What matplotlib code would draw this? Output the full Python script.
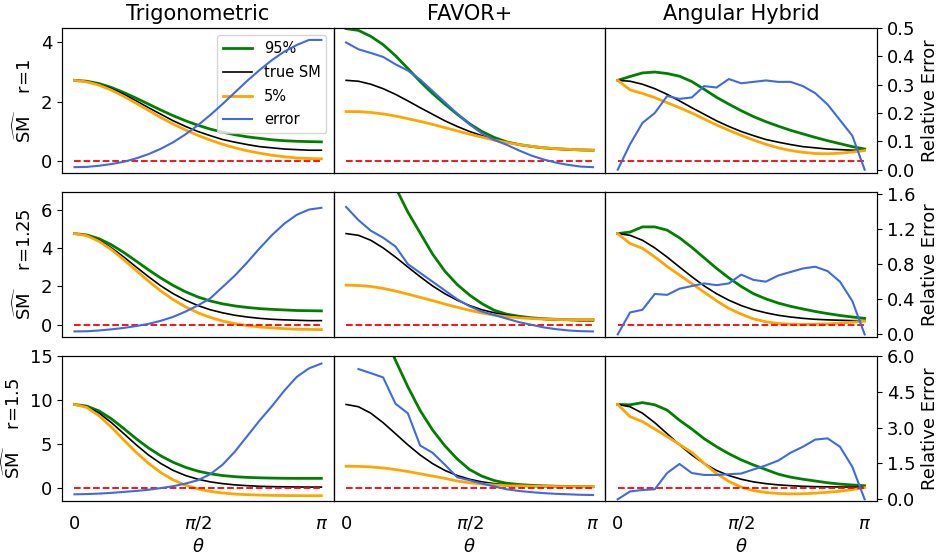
import matplotlib.pyplot as plt
from matplotlib.ticker import FormatStrFormatter
import numpy as np

# ------------------------- # Datos # ------------------------- #
# Ángulo entre vectores, de 0 a pi en pasos de 9 grados
theta = np.linspace(0, np.pi, 21)

metodos = ["Trigonometric", "FAVOR+", "Angular Hybrid"]
radios = ["1", "1.25", "1.5"]

# SM verdadero por fila (r=1, r=1.25, r=1.5)
true_r1 = [2.72, 2.69, 2.59, 2.44, 2.25, 2.03, 1.80, 1.58, 1.36, 1.17, 1.00,
           0.86, 0.73, 0.64, 0.56, 0.49, 0.45, 0.41, 0.39, 0.37, 0.37]
true_r2 = [4.77, 4.68, 4.42, 4.02, 3.54, 3.02, 2.51, 2.03, 1.62, 1.28, 1.00,
           0.78, 0.62, 0.49, 0.40, 0.33, 0.28, 0.25, 0.23, 0.21, 0.21]
true_r3 = [9.49, 9.23, 8.50, 7.42, 6.17, 4.91, 3.75, 2.78, 2.00, 1.42, 1.00,
           0.70, 0.50, 0.36, 0.27, 0.20, 0.16, 0.14, 0.12, 0.11, 0.11]

# Trigonometric: percentil 95, percentil 5 y error relativo
trig_r1_hi = [2.72, 2.69, 2.61, 2.48, 2.31, 2.12, 1.92, 1.72, 1.53, 1.36, 1.21,
              1.08, 0.98, 0.89, 0.82, 0.77, 0.72, 0.69, 0.67, 0.66, 0.65]
trig_r1_lo = [2.72, 2.67, 2.56, 2.39, 2.18, 1.95, 1.71, 1.47, 1.25, 1.05, 0.87,
              0.71, 0.57, 0.45, 0.35, 0.27, 0.20, 0.15, 0.11, 0.09, 0.08]
trig_r1_err = [0.009, 0.010, 0.014, 0.020, 0.028, 0.040, 0.055, 0.074, 0.097,
               0.125, 0.157, 0.193, 0.232, 0.273, 0.314, 0.352, 0.387, 0.417,
               0.440, 0.458, 0.458]
trig_r2_hi = [4.77, 4.70, 4.50, 4.18, 3.78, 3.33, 2.87, 2.44, 2.05, 1.72, 1.45,
              1.24, 1.09, 0.98, 0.90, 0.84, 0.80, 0.77, 0.74, 0.73, 0.72]
trig_r2_lo = [4.77, 4.66, 4.36, 3.93, 3.40, 2.84, 2.28, 1.76, 1.31, 0.93, 0.62,
              0.38, 0.19, 0.05, -0.05, -0.12, -0.17, -0.21, -0.24, -0.25, -0.26]
trig_r2_err = [0.034, 0.036, 0.045, 0.058, 0.074, 0.095, 0.12, 0.155, 0.20, 0.26,
               0.33, 0.41, 0.54, 0.67, 0.82, 0.98, 1.13, 1.26, 1.36, 1.42, 1.44]
trig_r3_hi = [9.49, 9.30, 8.75, 7.85, 6.75, 5.60, 4.55, 3.65, 2.92, 2.35, 1.92,
              1.62, 1.42, 1.29, 1.21, 1.16, 1.13, 1.11, 1.10, 1.10, 1.10]
trig_r3_lo = [9.49, 9.15, 8.20, 6.90, 5.45, 4.05, 2.80, 1.75, 0.92, 0.32, -0.10,
              -0.38, -0.56, -0.68, -0.75, -0.80, -0.83, -0.85, -0.86, -0.87, -0.87]
trig_r3_err = [0.21, 0.22, 0.24, 0.27, 0.31, 0.35, 0.40, 0.47, 0.55, 0.66, 0.80,
               1.05, 1.45, 2.00, 2.65, 3.30, 3.90, 4.55, 5.12, 5.48, 5.68]

# FAVOR+
favor_r1_hi = [4.46, 4.40, 4.20, 3.92, 3.55, 3.12, 2.68, 2.28, 1.92, 1.58, 1.26,
               1.00, 0.80, 0.65, 0.56, 0.50, 0.45, 0.42, 0.40, 0.38, 0.37]
favor_r1_lo = [1.67, 1.67, 1.64, 1.59, 1.52, 1.43, 1.34, 1.24, 1.13, 1.02, 0.91,
               0.81, 0.71, 0.63, 0.56, 0.50, 0.45, 0.42, 0.40, 0.38, 0.37]
favor_r1_err = [0.449, 0.425, 0.412, 0.398, 0.372, 0.350, 0.318, 0.278, 0.238,
                0.198, 0.160, 0.128, 0.105, 0.088, 0.068, 0.050, 0.036, 0.025,
                0.017, 0.011, 0.009]
favor_r2_hi = [14.0, 12.5, 10.5, 8.8, 7.2, 5.9, 4.8, 3.7, 2.8, 2.1, 1.55,
               1.1, 0.75, 0.55, 0.44, 0.36, 0.31, 0.28, 0.26, 0.25, 0.25]
favor_r2_lo = [2.07, 2.05, 2.00, 1.90, 1.76, 1.60, 1.43, 1.26, 1.08, 0.91, 0.75,
               0.61, 0.50, 0.42, 0.36, 0.32, 0.29, 0.27, 0.26, 0.26, 0.26]
favor_r2_err = [1.45, 1.30, 1.18, 1.10, 1.00, 0.80, 0.70, 0.60, 0.50, 0.40, 0.32,
                0.26, 0.22, 0.18, 0.14, 0.11, 0.08, 0.06, 0.045, 0.037, 0.034]
favor_r3_hi = [28.0, 25.0, 21.0, 18.0, 14.5, 11.5, 8.8, 6.6, 4.8, 3.3, 2.1,
               1.35, 0.85, 0.55, 0.40, 0.31, 0.25, 0.21, 0.18, 0.16, 0.15]
favor_r3_lo = [2.48, 2.46, 2.40, 2.28, 2.10, 1.88, 1.62, 1.36, 1.10, 0.80, 0.60,
               0.46, 0.35, 0.28, 0.25, 0.21, 0.19, 0.17, 0.16, 0.15, 0.15]
favor_r3_err = [np.nan, 5.45, 5.28, 5.10, 4.00, 3.60, 2.25, 1.95, 1.45, 0.92,
                0.80, 0.66, 0.54, 0.42, 0.35, 0.30, 0.26, 0.23, 0.21, 0.19, 0.18]

# Angular Hybrid
hyb_r1_hi = [2.72, 2.85, 2.97, 3.00, 2.95, 2.86, 2.68, 2.42, 2.15, 1.92, 1.70,
             1.50, 1.33, 1.18, 1.04, 0.92, 0.80, 0.69, 0.59, 0.49, 0.41]
hyb_r1_lo = [2.72, 2.40, 2.28, 2.14, 1.97, 1.80, 1.62, 1.42, 1.22, 1.04, 0.87,
             0.71, 0.57, 0.45, 0.36, 0.30, 0.26, 0.25, 0.27, 0.31, 0.36]
hyb_r1_err = [0.00, 0.09, 0.165, 0.20, 0.26, 0.25, 0.255, 0.295, 0.29, 0.32,
              0.305, 0.31, 0.315, 0.31, 0.31, 0.295, 0.27, 0.23, 0.175, 0.12, 0.00]
hyb_r2_hi = [4.77, 4.85, 5.12, 5.12, 4.95, 4.55, 4.05, 3.50, 2.95, 2.45, 2.00,
             1.62, 1.35, 1.13, 0.96, 0.82, 0.69, 0.58, 0.48, 0.40, 0.33]
hyb_r2_lo = [4.77, 4.25, 4.00, 3.55, 3.05, 2.60, 2.15, 1.70, 1.25, 0.85, 0.55,
             0.30, 0.15, 0.06, 0.02, 0.01, 0.02, 0.04, 0.08, 0.13, 0.18]
hyb_r2_err = [0.00, 0.25, 0.28, 0.46, 0.45, 0.52, 0.55, 0.58, 0.56, 0.58, 0.68,
              0.62, 0.60, 0.67, 0.71, 0.75, 0.77, 0.72, 0.60, 0.38, 0.00]
hyb_r3_hi = [9.49, 9.45, 9.70, 9.45, 8.85, 7.70, 6.70, 5.60, 4.70, 3.90, 3.20,
             2.62, 2.10, 1.58, 1.24, 1.00, 0.80, 0.60, 0.45, 0.35, 0.26]
hyb_r3_lo = [9.49, 8.10, 7.55, 6.70, 5.85, 4.95, 4.05, 2.80, 1.65, 0.75, 0.12,
             -0.30, -0.50, -0.62, -0.66, -0.65, -0.58, -0.48, -0.36, -0.18, 0.05]
hyb_r3_err = [0.00, 0.33, 0.39, 0.42, 1.10, 1.48, 1.10, 1.02, 1.02, 1.05, 1.08,
              1.25, 1.42, 1.62, 1.95, 2.20, 2.50, 2.55, 2.20, 1.36, 0.00]

# Organización de las series por (fila, columna)
verdadero = [true_r1, true_r2, true_r3]
percentil_95 = [[trig_r1_hi, favor_r1_hi, hyb_r1_hi],
                [trig_r2_hi, favor_r2_hi, hyb_r2_hi],
                [trig_r3_hi, favor_r3_hi, hyb_r3_hi]]
percentil_5 = [[trig_r1_lo, favor_r1_lo, hyb_r1_lo],
               [trig_r2_lo, favor_r2_lo, hyb_r2_lo],
               [trig_r3_lo, favor_r3_lo, hyb_r3_lo]]
errores = [[trig_r1_err, favor_r1_err, hyb_r1_err],
           [trig_r2_err, favor_r2_err, hyb_r2_err],
           [trig_r3_err, favor_r3_err, hyb_r3_err]]

# Límites y ticks de cada fila
sm_lims = [(-0.4, 4.48), (-0.65, 6.95), (-1.47, 15)]
sm_ticks = [[0, 2, 4], [0, 2, 4, 6], [0, 5, 10, 15]]
err_lims = [(-0.012, 0.5), (-0.03, 1.62), (-0.07, 6.0)]
err_ticks = [[0, 0.1, 0.2, 0.3, 0.4, 0.5], [0, 0.4, 0.8, 1.2, 1.6],
             [0, 1.5, 3.0, 4.5, 6.0]]

# ------------------------- # Gráfica # ------------------------- #
fig, axes = plt.subplots(3, 3, figsize=(9.41, 5.55), sharex=True, sharey='row')
fig.subplots_adjust(left=0.066, right=0.932, top=0.9495, bottom=0.0973,
                    wspace=0, hspace=0.13)

for i in range(3):
    for j in range(3):
        ax = axes[i, j]
        tw = ax.twinx()

        ax.plot(theta, percentil_95[i][j], color='green', lw=2, label='95%')
        ax.plot(theta, verdadero[i], color='black', lw=1.2, label='true SM')
        ax.plot(theta, percentil_5[i][j], color='orange', lw=2, label='5%')
        ax.hlines(0, theta[0], theta[-1], colors='red', linestyles='--', lw=1.3)
        tw.plot(theta, errores[i][j], color='royalblue', lw=1.5, label='error')

        ax.set_ylim(*sm_lims[i])
        ax.set_yticks(sm_ticks[i])
        tw.set_ylim(*err_lims[i])
        tw.set_yticks(err_ticks[i])
        tw.yaxis.set_major_formatter(FormatStrFormatter('%.1f'))

        ax.set_xticks([0, np.pi / 2, np.pi])
        ax.set_xticklabels(['0', r'$\pi/2$', r'$\pi$'])
        ax.tick_params(axis='x', length=0, pad=10, labelsize=13)
        ax.tick_params(axis='y', labelsize=13)
        tw.tick_params(axis='y', labelsize=13)

        if j > 0:
            ax.tick_params(axis='y', left=False)
        if j < 2:
            tw.tick_params(axis='y', right=False, labelright=False)
        else:
            tw.set_ylabel('Relative Error', fontsize=13)

        if i == 0:
            ax.set_title(metodos[j], fontsize=15)
        if i == 2:
            ax.set_xlabel(r'$\theta$', fontsize=13)
        if j == 0:
            ax.set_ylabel(r'$\widehat{\mathrm{SM}}$    r=' + radios[i],
                          fontsize=13)

        if i == 0 and j == 0:
            h1, l1 = ax.get_legend_handles_labels()
            h2, l2 = tw.get_legend_handles_labels()
            ax.legend(h1 + h2, l1 + l2, loc='upper right', fontsize=10.5,
                      labelspacing=0.6)

fig.savefig('out.png', dpi=100)
